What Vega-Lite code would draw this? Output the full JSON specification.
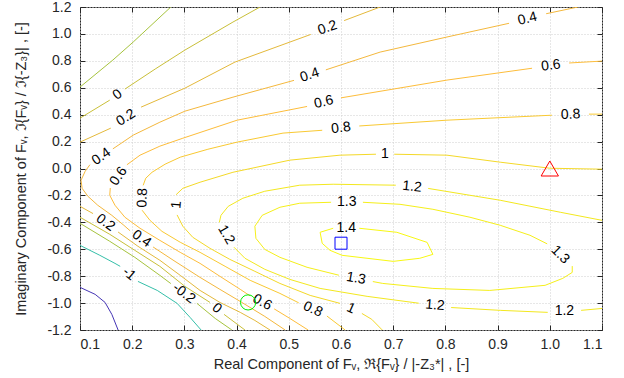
{
"$schema":"https://vega.github.io/schema/vega-lite/v6.json",
"width":522,"height":323,
"autosize":"none",
"padding":{"left":80,"top":7,"right":22,"bottom":48},
"background":"white",
"config":{
 "font":"Liberation Sans",
 "view":{"stroke":"#262626","strokeWidth":1},
 "axis":{"labelFont":"Liberation Sans","labelFontSize":14,"labelColor":"#262626","titleFont":"Liberation Sans","titleFontSize":14.5,"titleFontWeight":"normal","titleColor":"#262626","domain":false,"tickColor":"#262626","tickSize":-5,"gridColor":"#cfcfcf","gridDash":[1,2],"gridOpacity":1,"gridWidth":1}
},
"datasets":{
"lines":[
{"lv":"-2","s":"a","o":0,"x":0.100,"y":-0.883},{"lv":"-2","s":"a","o":1,"x":0.129,"y":-0.935},{"lv":"-2","s":"a","o":2,"x":0.148,"y":-0.995},{"lv":"-2","s":"a","o":3,"x":0.161,"y":-1.084},{"lv":"-2","s":"a","o":4,"x":0.173,"y":-1.2},
{"lv":"-1","s":"b","o":0,"x":0.100,"y":-0.571},{"lv":"-1","s":"b","o":1,"x":0.138,"y":-0.645},{"lv":"-1","s":"b","o":2,"x":0.167,"y":-0.705},{"lv":"-1","s":"b","o":3,"x":0.177,"y":-0.727},
{"lv":"-1","s":"c","o":0,"x":0.211,"y":-0.839},{"lv":"-1","s":"c","o":1,"x":0.248,"y":-0.906},{"lv":"-1","s":"c","o":2,"x":0.286,"y":-1.002},{"lv":"-1","s":"c","o":3,"x":0.311,"y":-1.107},{"lv":"-1","s":"c","o":4,"x":0.332,"y":-1.2},
{"lv":"-0.2","s":"d","o":0,"x":0.100,"y":-0.407},{"lv":"-0.2","s":"d","o":1,"x":0.157,"y":-0.541},{"lv":"-0.2","s":"d","o":2,"x":0.205,"y":-0.660},{"lv":"-0.2","s":"d","o":3,"x":0.253,"y":-0.794},{"lv":"-0.2","s":"d","o":4,"x":0.274,"y":-0.855},
{"lv":"-0.2","s":"e","o":0,"x":0.324,"y":-1.002},{"lv":"-0.2","s":"e","o":1,"x":0.359,"y":-1.114},{"lv":"-0.2","s":"e","o":2,"x":0.391,"y":-1.2},
{"lv":"-0.2","s":"f","o":0,"x":0.100,"y":0.605},{"lv":"-0.2","s":"f","o":1,"x":0.163,"y":0.806},{"lv":"-0.2","s":"f","o":2,"x":0.202,"y":0.940},{"lv":"-0.2","s":"f","o":3,"x":0.274,"y":1.2},
{"lv":"0","s":"g","o":0,"x":0.100,"y":0.374},{"lv":"0","s":"g","o":1,"x":0.157,"y":0.508},
{"lv":"0","s":"h","o":0,"x":0.186,"y":0.590},{"lv":"0","s":"h","o":1,"x":0.244,"y":0.739},{"lv":"0","s":"h","o":2,"x":0.301,"y":0.880},{"lv":"0","s":"h","o":3,"x":0.393,"y":1.088},{"lv":"0","s":"h","o":4,"x":0.445,"y":1.2},
{"lv":"0","s":"i","o":0,"x":0.100,"y":-0.362},{"lv":"0","s":"i","o":1,"x":0.157,"y":-0.489},{"lv":"0","s":"i","o":2,"x":0.205,"y":-0.608},{"lv":"0","s":"i","o":3,"x":0.253,"y":-0.727},{"lv":"0","s":"i","o":4,"x":0.301,"y":-0.876},{"lv":"0","s":"i","o":5,"x":0.349,"y":-0.995},
{"lv":"0","s":"j","o":0,"x":0.376,"y":-1.084},{"lv":"0","s":"j","o":1,"x":0.416,"y":-1.2},
{"lv":"0.2","s":"k","o":0,"x":0.100,"y":0.196},{"lv":"0.2","s":"k","o":1,"x":0.159,"y":0.300},
{"lv":"0.2","s":"l","o":0,"x":0.217,"y":0.456},{"lv":"0.2","s":"l","o":1,"x":0.301,"y":0.597},{"lv":"0.2","s":"l","o":2,"x":0.397,"y":0.791},{"lv":"0.2","s":"l","o":3,"x":0.542,"y":0.996},
{"lv":"0.2","s":"m","o":0,"x":0.606,"y":1.099},{"lv":"0.2","s":"m","o":1,"x":0.675,"y":1.2},
{"lv":"0.2","s":"n","o":0,"x":0.100,"y":-0.281},{"lv":"0.2","s":"n","o":1,"x":0.125,"y":-0.335},
{"lv":"0.2","s":"o","o":0,"x":0.173,"y":-0.472},{"lv":"0.2","s":"o","o":1,"x":0.211,"y":-0.578},{"lv":"0.2","s":"o","o":2,"x":0.253,"y":-0.682},{"lv":"0.2","s":"o","o":3,"x":0.292,"y":-0.794},{"lv":"0.2","s":"o","o":4,"x":0.330,"y":-0.906},{"lv":"0.2","s":"o","o":5,"x":0.368,"y":-0.995},{"lv":"0.2","s":"o","o":6,"x":0.407,"y":-1.069},{"lv":"0.2","s":"o","o":7,"x":0.435,"y":-1.129},{"lv":"0.2","s":"o","o":8,"x":0.464,"y":-1.2},
{"lv":"0.4","s":"p","o":0,"x":0.163,"y":0.146},{"lv":"0.4","s":"p","o":1,"x":0.202,"y":0.248},{"lv":"0.4","s":"p","o":2,"x":0.253,"y":0.344},{"lv":"0.4","s":"p","o":3,"x":0.301,"y":0.426},{"lv":"0.4","s":"p","o":4,"x":0.393,"y":0.530},{"lv":"0.4","s":"p","o":5,"x":0.510,"y":0.655},
{"lv":"0.4","s":"q","o":0,"x":0.571,"y":0.733},{"lv":"0.4","s":"q","o":1,"x":0.675,"y":0.865},{"lv":"0.4","s":"q","o":2,"x":0.803,"y":0.977},{"lv":"0.4","s":"q","o":3,"x":0.922,"y":1.079},
{"lv":"0.4","s":"r","o":0,"x":0.993,"y":1.150},{"lv":"0.4","s":"r","o":1,"x":1.054,"y":1.2},
{"lv":"0.4","s":"s","o":0,"x":0.119,"y":0.028},{"lv":"0.4","s":"s","o":1,"x":0.110,"y":-0.020},{"lv":"0.4","s":"s","o":2,"x":0.102,"y":-0.087},{"lv":"0.4","s":"s","o":3,"x":0.104,"y":-0.147},{"lv":"0.4","s":"s","o":4,"x":0.115,"y":-0.206},{"lv":"0.4","s":"s","o":5,"x":0.134,"y":-0.273},{"lv":"0.4","s":"s","o":6,"x":0.161,"y":-0.348},{"lv":"0.4","s":"s","o":7,"x":0.184,"y":-0.422},{"lv":"0.4","s":"s","o":8,"x":0.196,"y":-0.463},
{"lv":"0.4","s":"t","o":0,"x":0.240,"y":-0.583},{"lv":"0.4","s":"t","o":1,"x":0.282,"y":-0.690},{"lv":"0.4","s":"t","o":2,"x":0.330,"y":-0.809},{"lv":"0.4","s":"t","o":3,"x":0.368,"y":-0.898},{"lv":"0.4","s":"t","o":4,"x":0.407,"y":-0.988},{"lv":"0.4","s":"t","o":5,"x":0.454,"y":-1.099},{"lv":"0.4","s":"t","o":6,"x":0.493,"y":-1.2},
{"lv":"0.6","s":"u","o":0,"x":0.190,"y":0.028},{"lv":"0.6","s":"u","o":1,"x":0.215,"y":0.099},{"lv":"0.6","s":"u","o":2,"x":0.253,"y":0.166},{"lv":"0.6","s":"u","o":3,"x":0.297,"y":0.225},{"lv":"0.6","s":"u","o":4,"x":0.401,"y":0.359},{"lv":"0.6","s":"u","o":5,"x":0.535,"y":0.461},
{"lv":"0.6","s":"v","o":0,"x":0.600,"y":0.525},{"lv":"0.6","s":"v","o":1,"x":0.803,"y":0.657},{"lv":"0.6","s":"v","o":2,"x":0.966,"y":0.745},
{"lv":"0.6","s":"w","o":0,"x":1.037,"y":0.784},{"lv":"0.6","s":"w","o":1,"x":1.1,"y":0.798},
{"lv":"0.6","s":"x","o":0,"x":0.158,"y":-0.145},{"lv":"0.6","s":"x","o":1,"x":0.157,"y":-0.199},{"lv":"0.6","s":"x","o":2,"x":0.167,"y":-0.273},{"lv":"0.6","s":"x","o":3,"x":0.186,"y":-0.362},{"lv":"0.6","s":"x","o":4,"x":0.215,"y":-0.444},{"lv":"0.6","s":"x","o":5,"x":0.253,"y":-0.534},{"lv":"0.6","s":"x","o":6,"x":0.292,"y":-0.623},{"lv":"0.6","s":"x","o":7,"x":0.330,"y":-0.705},{"lv":"0.6","s":"x","o":8,"x":0.368,"y":-0.801},{"lv":"0.6","s":"x","o":9,"x":0.407,"y":-0.898},{"lv":"0.6","s":"x","o":10,"x":0.426,"y":-0.947},
{"lv":"0.6","s":"y","o":0,"x":0.472,"y":-1.043},{"lv":"0.6","s":"y","o":1,"x":0.502,"y":-1.114},{"lv":"0.6","s":"y","o":2,"x":0.537,"y":-1.2},
{"lv":"0.8","s":"z","o":0,"x":0.221,"y":-0.125},{"lv":"0.8","s":"z","o":1,"x":0.226,"y":-0.072},{"lv":"0.8","s":"z","o":2,"x":0.238,"y":-0.028},{"lv":"0.8","s":"z","o":3,"x":0.263,"y":0.032},{"lv":"0.8","s":"z","o":4,"x":0.292,"y":0.084},{"lv":"0.8","s":"z","o":5,"x":0.345,"y":0.143},{"lv":"0.8","s":"z","o":6,"x":0.401,"y":0.196},{"lv":"0.8","s":"z","o":7,"x":0.489,"y":0.263},{"lv":"0.8","s":"z","o":8,"x":0.564,"y":0.284},
{"lv":"0.8","s":"aa","o":0,"x":0.635,"y":0.316},{"lv":"0.8","s":"aa","o":1,"x":0.803,"y":0.359},{"lv":"0.8","s":"aa","o":2,"x":1.004,"y":0.396},
{"lv":"0.8","s":"ab","o":0,"x":1.075,"y":0.404},{"lv":"0.8","s":"ab","o":1,"x":1.1,"y":0.404},
{"lv":"0.8","s":"ac","o":0,"x":0.219,"y":-0.310},{"lv":"0.8","s":"ac","o":1,"x":0.234,"y":-0.385},{"lv":"0.8","s":"ac","o":2,"x":0.257,"y":-0.467},{"lv":"0.8","s":"ac","o":3,"x":0.292,"y":-0.548},{"lv":"0.8","s":"ac","o":4,"x":0.330,"y":-0.623},{"lv":"0.8","s":"ac","o":5,"x":0.378,"y":-0.727},{"lv":"0.8","s":"ac","o":6,"x":0.426,"y":-0.831},{"lv":"0.8","s":"ac","o":7,"x":0.483,"y":-0.928},{"lv":"0.8","s":"ac","o":8,"x":0.519,"y":-0.998},
{"lv":"0.8","s":"ad","o":0,"x":0.573,"y":-1.096},{"lv":"0.8","s":"ad","o":1,"x":0.608,"y":-1.2},
{"lv":"1","s":"ae","o":0,"x":0.284,"y":-0.195},{"lv":"1","s":"ae","o":1,"x":0.297,"y":-0.147},{"lv":"1","s":"ae","o":2,"x":0.330,"y":-0.102},{"lv":"1","s":"ae","o":3,"x":0.393,"y":-0.028},{"lv":"1","s":"ae","o":4,"x":0.502,"y":0.062},{"lv":"1","s":"ae","o":5,"x":0.598,"y":0.099},{"lv":"1","s":"ae","o":6,"x":0.667,"y":0.106},
{"lv":"1","s":"af","o":0,"x":0.702,"y":0.106},{"lv":"1","s":"af","o":1,"x":0.803,"y":0.099},{"lv":"1","s":"af","o":2,"x":0.905,"y":0.047},{"lv":"1","s":"af","o":3,"x":1.0,"y":0.002},{"lv":"1","s":"af","o":4,"x":1.1,"y":-0.005},
{"lv":"1","s":"ag","o":0,"x":0.286,"y":-0.345},{"lv":"1","s":"ag","o":1,"x":0.297,"y":-0.429},{"lv":"1","s":"ag","o":2,"x":0.316,"y":-0.511},{"lv":"1","s":"ag","o":3,"x":0.349,"y":-0.593},{"lv":"1","s":"ag","o":4,"x":0.387,"y":-0.675},{"lv":"1","s":"ag","o":5,"x":0.435,"y":-0.764},{"lv":"1","s":"ag","o":6,"x":0.483,"y":-0.854},{"lv":"1","s":"ag","o":7,"x":0.541,"y":-0.943},{"lv":"1","s":"ag","o":8,"x":0.598,"y":-1.002},
{"lv":"1","s":"ah","o":0,"x":0.640,"y":-1.077},{"lv":"1","s":"ah","o":1,"x":0.659,"y":-1.121},{"lv":"1","s":"ah","o":2,"x":0.679,"y":-1.2},
{"lv":"1.2","s":"ai","o":0,"x":0.767,"y":-0.148},{"lv":"1.2","s":"ai","o":1,"x":0.905,"y":-0.236},{"lv":"1.2","s":"ai","o":2,"x":1.020,"y":-0.325},{"lv":"1.2","s":"ai","o":3,"x":1.1,"y":-0.385},
{"lv":"1.2","s":"aj","o":0,"x":0.367,"y":-0.400},{"lv":"1.2","s":"aj","o":1,"x":0.370,"y":-0.348},{"lv":"1.2","s":"aj","o":2,"x":0.384,"y":-0.281},{"lv":"1.2","s":"aj","o":3,"x":0.412,"y":-0.221},{"lv":"1.2","s":"aj","o":4,"x":0.454,"y":-0.169},{"lv":"1.2","s":"aj","o":5,"x":0.521,"y":-0.124},{"lv":"1.2","s":"aj","o":6,"x":0.585,"y":-0.117},{"lv":"1.2","s":"aj","o":7,"x":0.705,"y":-0.124},
{"lv":"1.2","s":"ak","o":0,"x":0.395,"y":-0.585},{"lv":"1.2","s":"ak","o":1,"x":0.416,"y":-0.667},{"lv":"1.2","s":"ak","o":2,"x":0.454,"y":-0.749},{"lv":"1.2","s":"ak","o":3,"x":0.502,"y":-0.824},{"lv":"1.2","s":"ak","o":4,"x":0.560,"y":-0.891},{"lv":"1.2","s":"ak","o":5,"x":0.650,"y":-0.950},{"lv":"1.2","s":"ak","o":6,"x":0.749,"y":-1.001},
{"lv":"1.2","s":"al","o":0,"x":0.811,"y":-1.033},{"lv":"1.2","s":"al","o":1,"x":0.905,"y":-1.054},{"lv":"1.2","s":"al","o":2,"x":0.996,"y":-1.069},
{"lv":"1.2","s":"am","o":0,"x":1.060,"y":-1.054},{"lv":"1.2","s":"am","o":1,"x":1.1,"y":-1.040},
{"lv":"1.3","s":"an","o":0,"x":0.642,"y":-0.251},{"lv":"1.3","s":"an","o":1,"x":0.713,"y":-0.266},{"lv":"1.3","s":"an","o":2,"x":0.776,"y":-0.303},{"lv":"1.3","s":"an","o":3,"x":0.847,"y":-0.362},{"lv":"1.3","s":"an","o":4,"x":0.905,"y":-0.422},{"lv":"1.3","s":"an","o":5,"x":0.962,"y":-0.496},{"lv":"1.3","s":"an","o":6,"x":0.995,"y":-0.560},
{"lv":"1.3","s":"ao","o":0,"x":1.043,"y":-0.725},{"lv":"1.3","s":"ao","o":1,"x":1.043,"y":-0.772},{"lv":"1.3","s":"ao","o":2,"x":1.025,"y":-0.816},{"lv":"1.3","s":"ao","o":3,"x":0.991,"y":-0.868},{"lv":"1.3","s":"ao","o":4,"x":0.885,"y":-0.906},{"lv":"1.3","s":"ao","o":5,"x":0.776,"y":-0.891},{"lv":"1.3","s":"ao","o":6,"x":0.680,"y":-0.854},{"lv":"1.3","s":"ao","o":7,"x":0.661,"y":-0.840},
{"lv":"1.3","s":"ap","o":0,"x":0.596,"y":-0.793},{"lv":"1.3","s":"ap","o":1,"x":0.535,"y":-0.734},{"lv":"1.3","s":"ap","o":2,"x":0.483,"y":-0.660},{"lv":"1.3","s":"ap","o":3,"x":0.454,"y":-0.601},{"lv":"1.3","s":"ap","o":4,"x":0.437,"y":-0.519},{"lv":"1.3","s":"ap","o":5,"x":0.435,"y":-0.429},{"lv":"1.3","s":"ap","o":6,"x":0.449,"y":-0.348},{"lv":"1.3","s":"ap","o":7,"x":0.483,"y":-0.288},{"lv":"1.3","s":"ap","o":8,"x":0.521,"y":-0.258},{"lv":"1.3","s":"ap","o":9,"x":0.581,"y":-0.251},
{"lv":"1.4","s":"aq","o":0,"x":0.635,"y":-0.444},{"lv":"1.4","s":"aq","o":1,"x":0.707,"y":-0.474},{"lv":"1.4","s":"aq","o":2,"x":0.765,"y":-0.549},{"lv":"1.4","s":"aq","o":3,"x":0.776,"y":-0.638},{"lv":"1.4","s":"aq","o":4,"x":0.751,"y":-0.667},{"lv":"1.4","s":"aq","o":5,"x":0.700,"y":-0.690},{"lv":"1.4","s":"aq","o":6,"x":0.602,"y":-0.645},{"lv":"1.4","s":"aq","o":7,"x":0.579,"y":-0.608},{"lv":"1.4","s":"aq","o":8,"x":0.564,"y":-0.556},{"lv":"1.4","s":"aq","o":9,"x":0.560,"y":-0.474},{"lv":"1.4","s":"aq","o":10,"x":0.585,"y":-0.444}
],
"labels":[
{"t":"-1","x":0.194,"y":-0.783,"a":40},
{"t":"-0.2","x":0.299,"y":-0.928,"a":37},
{"t":"0","x":0.172,"y":0.549,"a":-36},
{"t":"0","x":0.362,"y":-1.040,"a":40},
{"t":"0.2","x":0.188,"y":0.378,"a":-32},
{"t":"0.2","x":0.574,"y":1.045,"a":-18},
{"t":"0.2","x":0.149,"y":-0.403,"a":36},
{"t":"0.4","x":0.540,"y":0.694,"a":-18},
{"t":"0.4","x":0.957,"y":1.112,"a":-14},
{"t":"0.4","x":0.141,"y":0.088,"a":-35},
{"t":"0.4","x":0.218,"y":-0.523,"a":35},
{"t":"0.6","x":0.174,"y":-0.058,"a":-55},
{"t":"0.6","x":0.567,"y":0.493,"a":-13},
{"t":"0.6","x":1.002,"y":0.765,"a":-7},
{"t":"0.6","x":0.449,"y":-0.995,"a":29},
{"t":"0.8","x":0.600,"y":0.300,"a":-7},
{"t":"0.8","x":1.040,"y":0.400,"a":-2},
{"t":"0.8","x":0.220,"y":-0.218,"a":272},
{"t":"0.8","x":0.546,"y":-1.047,"a":25},
{"t":"1","x":0.684,"y":0.106,"a":0},
{"t":"1","x":0.285,"y":-0.270,"a":275},
{"t":"1","x":0.619,"y":-1.040,"a":24},
{"t":"1.2","x":0.736,"y":-0.136,"a":6},
{"t":"1.2","x":0.380,"y":-0.492,"a":60},
{"t":"1.2","x":0.780,"y":-1.017,"a":5},
{"t":"1.2","x":1.028,"y":-1.062,"a":0},
{"t":"1.3","x":1.020,"y":-0.641,"a":45},
{"t":"1.3","x":0.629,"y":-0.817,"a":10},
{"t":"1.3","x":0.611,"y":-0.251,"a":0},
{"t":"1.4","x":0.610,"y":-0.444,"a":0}
],
"markers":[
{"m":"tri","x":1.0,"y":0.0},
{"m":"sq","x":0.6,"y":-0.555},
{"m":"circ","x":0.422,"y":-0.995}
]
},
"layer":[
{"data":{"name":"lines"},"mark":{"type":"line","strokeWidth":1,"clip":true},
 "encoding":{
  "x":{"field":"x","type":"quantitative","scale":{"domain":[0.1,1.1],"nice":false,"zero":false},
   "axis":{"orient":"bottom","values":[0.1,0.2,0.3,0.4,0.5,0.6,0.7,0.8,0.9,1.0,1.1],"labelExpr":"format(datum.value,'.1f')","labelPadding":12,"title":"Real Component of Fᵥ, ℜ{Fᵥ} / |-Z₃*| , [-]","titleY":38,"titleBaseline":"alphabetic","grid":true}},
  "y":{"field":"y","type":"quantitative","scale":{"domain":[-1.2,1.2],"nice":false,"zero":false},
   "axis":{"orient":"left","values":[-1.2,-1.0,-0.8,-0.6,-0.4,-0.2,0,0.2,0.4,0.6,0.8,1.0,1.2],"labelExpr":"(datum.value<0?'-':'')+format(abs(datum.value),'.1f')","labelPadding":14,"title":"Imaginary Component of Fᵥ, ℑ{Fᵥ} / ℑ{-Z₃}| , [-]","titleX":-55,"titleBaseline":"alphabetic","grid":true}},
  "color":{"field":"lv","type":"nominal","scale":{"domain":["-2","-1","-0.2","0","0.2","0.4","0.6","0.8","1","1.2","1.3","1.4"],"range":["#4535b5","#35bfa9","#a6c33d","#c9bf38","#e4b93b","#f4b83d","#fdbd3b","#f9c932","#f4d928","#f3e81f","#f5ef1a","#f8f812"]},"legend":null},
  "detail":{"field":"s","type":"nominal"},
  "order":{"field":"o","type":"quantitative"}
 }},
{"data":{"name":"labels"},"mark":{"type":"text","font":"Liberation Sans","fontSize":14,"color":"#000000","align":"center","baseline":"middle"},
 "encoding":{
  "x":{"field":"x","type":"quantitative","axis":null},
  "y":{"field":"y","type":"quantitative","axis":null},
  "text":{"field":"t","type":"nominal"},
  "angle":{"field":"a","type":"quantitative","scale":null}
 }},
{"data":{"name":"markers"},"transform":[{"filter":"datum.m=='tri'"}],"mark":{"type":"point","shape":"triangle-up","filled":false,"color":"#ff0000","size":300,"strokeWidth":1,"opacity":1},
 "encoding":{
  "x":{"field":"x","type":"quantitative","axis":{"orient":"top","values":[0.1,0.2,0.3,0.4,0.5,0.6,0.7,0.8,0.9,1.0,1.1],"labels":false,"title":null,"grid":false}},
  "y":{"field":"y","type":"quantitative","axis":{"orient":"right","values":[-1.2,-1.0,-0.8,-0.6,-0.4,-0.2,0,0.2,0.4,0.6,0.8,1.0,1.2],"labels":false,"title":null,"grid":false}}
 }},
{"data":{"name":"markers"},"transform":[{"filter":"datum.m=='sq'"}],"mark":{"type":"point","shape":"square","filled":false,"color":"#0000ff","size":144,"strokeWidth":1,"opacity":1},
 "encoding":{
  "x":{"field":"x","type":"quantitative","axis":null},
  "y":{"field":"y","type":"quantitative","axis":null}
 }},
{"data":{"name":"markers"},"transform":[{"filter":"datum.m=='circ'"}],"mark":{"type":"point","shape":"circle","filled":false,"color":"#00ee00","size":230,"strokeWidth":1,"opacity":1},
 "encoding":{
  "x":{"field":"x","type":"quantitative","axis":null},
  "y":{"field":"y","type":"quantitative","axis":null}
 }}
],
"resolve":{"axis":{"x":"independent","y":"independent"}}
}
